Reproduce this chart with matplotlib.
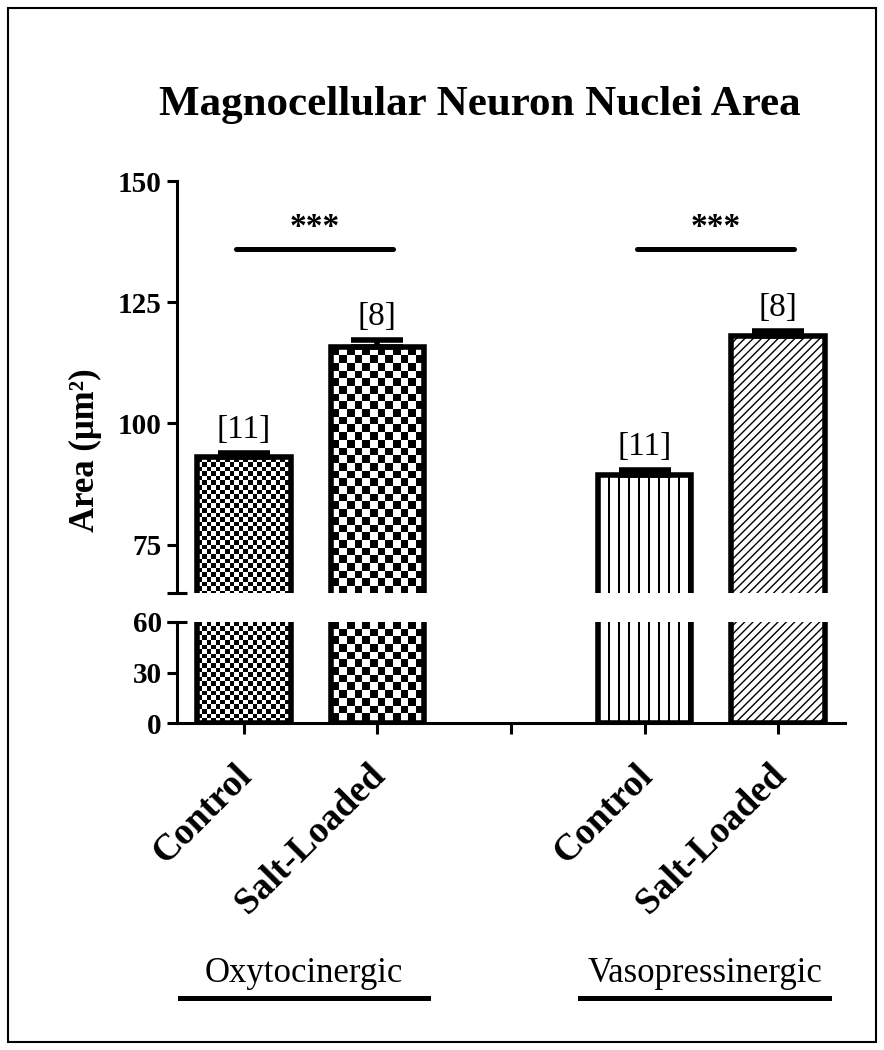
import numpy as np
import matplotlib
matplotlib.use('Agg')
import matplotlib.pyplot as plt
from matplotlib.patches import Rectangle
import matplotlib.transforms as mtransforms

# ---------------- data ----------------
groups = ['Oxytocinergic', 'Vasopressinergic']
conditions = ['Control', 'Salt-Loaded']
means = [93.0, 115.7, 89.3, 118.0]
sems = [0.8, 1.5, 1.0, 1.0]
n_animals = [11, 8, 11, 8]
significance = ['***', '***']
upper_ticks = [75, 100, 125, 150]
lower_ticks = [0, 30, 60]
title = 'Magnocellular Neuron Nuclei Area'
ylabel = 'Area (μm²)'

# ---------------- style ----------------
plt.rcParams['font.family'] = ['Liberation Serif', 'DejaVu Serif']
plt.rcParams['hatch.linewidth'] = 1.0
W, H, DPI = 884, 1050, 100
fig = plt.figure(figsize=(W / DPI, H / DPI), dpi=DPI)


def fig_box(left, top, right, bottom):
    return [left / W, 1 - bottom / H, (right - left) / W, (bottom - top) / H]


ax_top = fig.add_axes(fig_box(177, 181, 845, 593))
ax_bot = fig.add_axes(fig_box(177, 622, 845, 723))

ncond = len(conditions)
positions = np.array([g * (ncond + 1) + c for g in range(len(groups)) for c in range(ncond)], float)
gap_ticks = [g * (ncond + 1) - 1 for g in range(1, len(groups))]
xlim = (-0.5, positions[-1] + 0.5)
ylim_top = (65, 150)
ylim_bot = (0, 60)
for ax, yl in ((ax_top, ylim_top), (ax_bot, ylim_bot)):
    ax.set_xlim(*xlim)
    ax.set_ylim(*yl)

# fill styles: (kind, parameter)
fills = [('checker', 4.6), ('checker', 7.7), ('vlines', 10), ('hatch', '////')]


def pattern_array(kind, size, wpx, hpx):
    yy, xx = np.mgrid[0:hpx, 0:wpx]
    if kind == 'checker':
        return (np.floor(xx / size) + np.floor(yy / size)) % 2
    return ((xx % size) >= 2).astype(float)


bar_width = 0.7
for ax in (ax_top, ax_bot):
    bars = ax.bar(positions, means, width=bar_width, facecolor='none',
                  edgecolor='black', linewidth=4, zorder=3)
    for bar, (kind, par) in zip(bars, fills):
        if kind == 'hatch':
            bar.set_hatch(par)
            continue
        x0, x1 = bar.get_x(), bar.get_x() + bar.get_width()
        y0, y1 = 0, bar.get_height()
        p0 = ax.transData.transform((x0, y0))
        p1 = ax.transData.transform((x1, y1))
        wpx = max(1, int(round(abs(p1[0] - p0[0]))))
        hpx = max(1, int(round(abs(p1[1] - p0[1]))))
        arr = pattern_array(kind, par, wpx, hpx)
        im = ax.imshow(arr, cmap='gray', vmin=0, vmax=1, extent=(x0, x1, y0, y1),
                       aspect='auto', interpolation='nearest', zorder=2)
        im.set_clip_path(bar)
        im.set_clip_box(ax.bbox)

# error bars (upper only, visible part)
ax_top.errorbar(positions, means, yerr=[np.zeros(len(sems)), sems], fmt='none',
                ecolor='black', elinewidth=4, capsize=19, capthick=4, zorder=4)

# n labels
for x, m, s, n in zip(positions, means, sems, n_animals):
    ax_top.annotate(f'[{n}]', (x, m + s), xytext=(0, 6), textcoords='offset points',
                    ha='center', va='bottom', fontsize=24)

# significance brackets
bracket_y = 136
for g, star in enumerate(significance):
    xc = positions[g * ncond]
    xs = positions[g * ncond + ncond - 1]
    ax_top.plot([xc - 0.06, xs + 0.12], [bracket_y, bracket_y], color='black', lw=3.6,
                solid_capstyle='round', zorder=4)
    ax_top.annotate(star, ((xc + xs) / 2 + 0.03, bracket_y), xytext=(0, 4),
                    textcoords='offset points', ha='center', va='bottom',
                    fontsize=24, fontweight='bold')

for ax, yl in ((ax_top, ylim_top), (ax_bot, ylim_bot)):
    ax.set_xlim(*xlim)
    ax.set_ylim(*yl)
    for sp in ('top', 'right'):
        ax.spines[sp].set_visible(False)
    ax.spines['left'].set_linewidth(2.2)
    ax.spines['bottom'].set_linewidth(2.2)
    ax.tick_params(axis='y', direction='out', length=7, width=2.2, labelsize=21, pad=4)

ax_top.spines['bottom'].set_visible(False)
ax_top.set_xticks([])
ax_top.set_yticks(upper_ticks)
ax_top.set_yticklabels([str(t) for t in upper_ticks], fontweight='bold', fontsize=21)
ax_bot.set_yticks(lower_ticks)
ax_bot.set_yticklabels([str(t) for t in lower_ticks], fontweight='bold', fontsize=21)

# break marks
ax_top.plot([0], [0], transform=ax_top.transAxes, marker='_', ms=14, mew=2.2,
            color='black', clip_on=False)
ax_bot.plot([0], [1], transform=ax_bot.transAxes, marker='_', ms=14, mew=2.2,
            color='black', clip_on=False)

# x ticks
xt = list(positions) + gap_ticks
xl = conditions * len(groups) + [''] * len(gap_ticks)
ax_bot.set_xticks(xt)
ax_bot.set_xticklabels(xl, rotation=45, ha='right', rotation_mode='anchor',
                       fontsize=27, fontweight='bold')
ax_bot.tick_params(axis='x', direction='out', length=8, width=2.2, pad=4)
shift = mtransforms.ScaledTranslation(-10 / DPI, -18 / DPI, fig.dpi_scale_trans)
for lab in ax_bot.get_xticklabels():
    lab.set_transform(lab.get_transform() + shift)

# group labels with underline
blend = mtransforms.blended_transform_factory(ax_bot.transData, fig.transFigure)
for g, name in enumerate(groups):
    gc = positions[g * ncond:(g + 1) * ncond].mean() - 0.05
    ax_bot.text(gc, 1 - 973 / H, name, transform=blend, ha='center', va='center',
                fontsize=25)
    ax_bot.plot([gc - 0.93, gc + 0.93], [1 - 998 / H] * 2, transform=blend,
                color='black', lw=3.6, clip_on=False)

# titles
fig.text(480 / W, 1 - 105 / H, title, ha='center', va='center', fontsize=31,
         fontweight='bold')
fig.text(85 / W, 1 - 450 / H, ylabel, ha='center', va='center', rotation=90,
         fontsize=25, fontweight='bold')

# border
fig.patches.append(Rectangle((8 / W, 8 / H), (W - 16) / W, (H - 16) / H,
                             transform=fig.transFigure, fill=False, lw=1.5,
                             edgecolor='black'))

fig.savefig('out.png', dpi=DPI)
